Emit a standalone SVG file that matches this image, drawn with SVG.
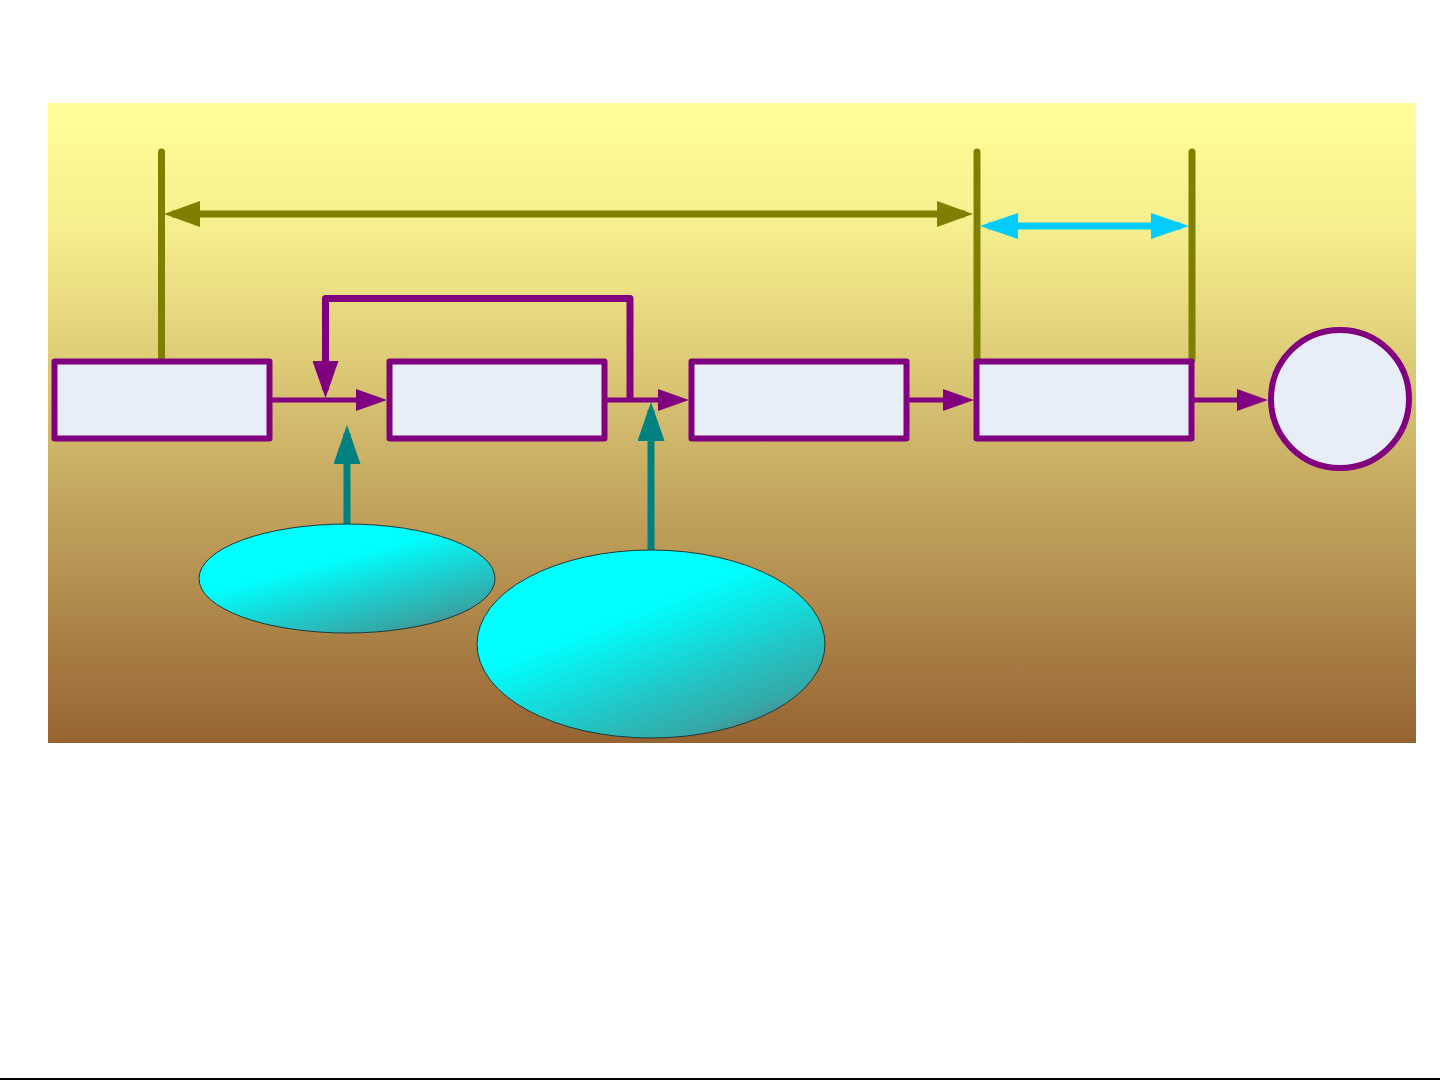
<svg xmlns="http://www.w3.org/2000/svg" width="1441" height="1081" viewBox="0 0 1441 1081">
<defs>
<linearGradient id="bg" x1="0" y1="0" x2="0" y2="1">
<stop offset="0" stop-color="#FFFF99"/>
<stop offset="0.2" stop-color="#F6EE8E"/>
<stop offset="1" stop-color="#966433"/>
</linearGradient>
<linearGradient id="ell" x1="0.2" y1="0.1" x2="0.85" y2="1">
<stop offset="0" stop-color="#00FFFF"/>
<stop offset="0.3" stop-color="#00FFFF"/>
<stop offset="0.65" stop-color="#22C6C6"/>
<stop offset="0.85" stop-color="#35A8A8"/>
<stop offset="1" stop-color="#5A7A80"/>
</linearGradient>
<marker id="mOlive" markerUnits="userSpaceOnUse" markerWidth="36" markerHeight="26" refX="28" refY="13" orient="auto-start-reverse">
<path d="M0,0 L36,13 L0,26 Z" fill="#808000"/>
</marker>
<marker id="mCyan" markerUnits="userSpaceOnUse" markerWidth="38" markerHeight="26" refX="30" refY="13" orient="auto-start-reverse">
<path d="M0,0 L38,13 L0,26 Z" fill="#00CCFF"/>
</marker>
<marker id="mPurple" markerUnits="userSpaceOnUse" markerWidth="31" markerHeight="22" refX="23" refY="11" orient="auto">
<path d="M0,0 L31,11 L0,22 Z" fill="#800080"/>
</marker>
<marker id="mPurpleBig" markerUnits="userSpaceOnUse" markerWidth="37" markerHeight="26" refX="29" refY="13" orient="auto">
<path d="M0,0 L37,13 L0,26 Z" fill="#800080"/>
</marker>
<marker id="mTeal" markerUnits="userSpaceOnUse" markerWidth="39" markerHeight="27" refX="31" refY="13.5" orient="auto">
<path d="M0,0 L39,13.5 L0,27 Z" fill="#008080"/>
</marker>
</defs>
<style>
.box{fill:#E8EEF7;stroke:#800080;stroke-width:6;stroke-linejoin:round}
.ell{fill:url(#ell);stroke:#1a3a3a;stroke-width:1}
.olive{stroke:#808000;stroke-width:7;stroke-linecap:round;fill:none}
.oliveArrow{stroke:#808000;stroke-width:7;fill:none;marker-start:url(#mOlive);marker-end:url(#mOlive)}
.cyanArrow{stroke:#00CCFF;stroke-width:7;fill:none;marker-start:url(#mCyan);marker-end:url(#mCyan)}
.flow{stroke:#800080;stroke-width:5;fill:none;marker-end:url(#mPurple)}
.loop{stroke:#800080;stroke-width:7;fill:none;stroke-linejoin:round;marker-end:url(#mPurpleBig)}
.teal{stroke:#008080;stroke-width:7;fill:none;marker-end:url(#mTeal)}
</style>
<rect x="48" y="103" width="1368" height="640" fill="url(#bg)"/>
<rect x="0" y="1078" width="1440" height="2" fill="#000000"/>
<g id="connectors">
<line class="olive" x1="161.5" y1="152" x2="161.5" y2="360"/>
<line class="olive" x1="977" y1="152" x2="977" y2="360"/>
<line class="olive" x1="1192" y1="152" x2="1192" y2="360"/>
<line class="oliveArrow" x1="172" y1="214" x2="965" y2="214"/>
<line class="cyanArrow" x1="988" y1="226" x2="1181" y2="226"/>
<line class="flow" x1="271" y1="400" x2="379" y2="400"/>
<path class="loop" d="M630,400 V298.5 H325.5 V390"/>
<line class="flow" x1="607" y1="400" x2="681" y2="400"/>
<line class="flow" x1="908" y1="400" x2="966" y2="400"/>
<line class="flow" x1="1194" y1="400" x2="1260" y2="400"/>
<line class="teal" x1="347" y1="524" x2="347" y2="433"/>
<line class="teal" x1="651" y1="551" x2="651" y2="410"/>
</g>
<g id="box1"><rect class="box" x="54.5" y="361.5" width="215" height="77"/></g>
<g id="box2"><rect class="box" x="389.5" y="361.5" width="215" height="77"/></g>
<g id="box3"><rect class="box" x="691.5" y="361.5" width="215" height="77"/></g>
<g id="box4"><rect class="box" x="976.5" y="361.5" width="215" height="77"/></g>
<g id="circle"><circle class="box" cx="1340" cy="399" r="69"/></g>
<g id="ellipse1"><ellipse class="ell" cx="347" cy="578.5" rx="148" ry="54.5"/></g>
<g id="ellipse2"><ellipse class="ell" cx="651" cy="644" rx="174" ry="94"/></g>
</svg>
